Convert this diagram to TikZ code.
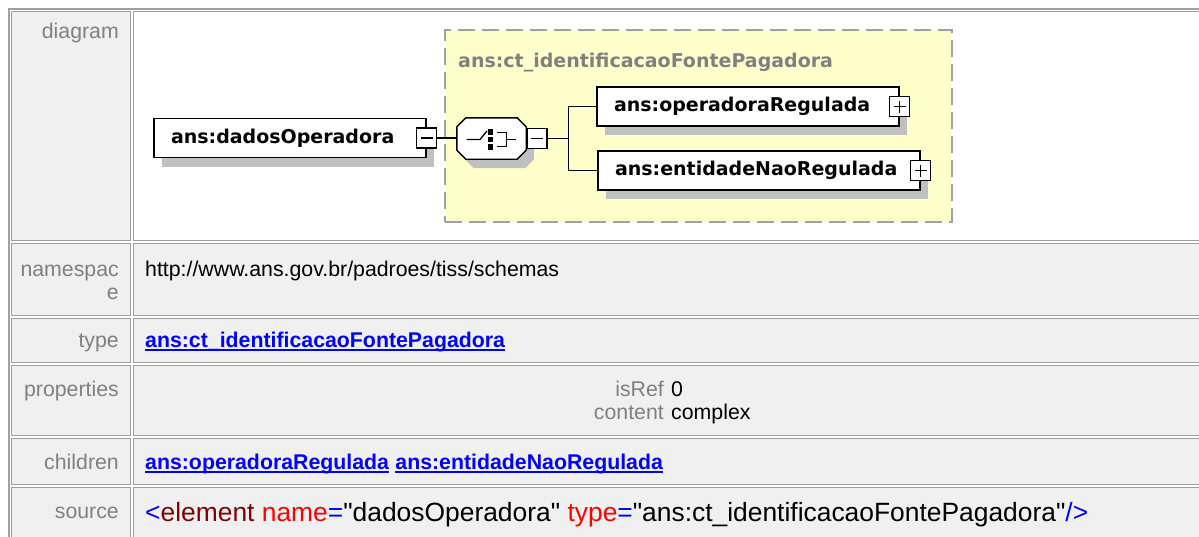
\documentclass[tikz,border=0pt]{standalone}
\usepackage{fontspec}
\setmainfont{Liberation Sans}
\newfontfamily\diafont{DejaVu Sans}
\newfontfamily\srcfont{Liberation Sans}[Ligatures=TeXOff]
\usetikzlibrary{positioning,shadows}

\definecolor{cellline}{HTML}{A0A0A0}
\definecolor{cellbg}{HTML}{F0F0F0}
\definecolor{labelgray}{HTML}{808080}
\definecolor{shadegray}{HTML}{C0C0C0}
\definecolor{groupbg}{HTML}{FFFFCC}
\definecolor{groupline}{HTML}{A0A0A0}
\definecolor{linkblue}{HTML}{0000FF}
\definecolor{tagred}{HTML}{800000}
\definecolor{attrred}{HTML}{FF0000}

\tikzset{
  cell/.style={draw=cellline, line width=1pt, fill=cellbg},
  rowlabel/.style={anchor=base east, inner sep=0pt, text=labelgray,
    font=\fontsize{21.3}{24}\selectfont},
  rowvalue/.style={anchor=base west, inner sep=0pt,
    font=\fontsize{21.3}{24}\selectfont},
  linkval/.style={rowvalue, text=linkblue,
    font=\bfseries\fontsize{21.3}{24}\selectfont},
  linkline/.style={draw=linkblue, line width=1.3pt},
  srcval/.style={anchor=base west, inner sep=0pt,
    font=\srcfont\fontsize{26.4}{30}\selectfont},
  boxshadow/.style={drop shadow={shadow xshift=8pt, shadow yshift=-9pt,
    fill=shadegray, opacity=1}},
  elbox/.style={draw, fill=white, line width=1.4pt, minimum height=39pt,
    inner xsep=17pt, inner ysep=0pt, align=left, text height=14pt,
    text depth=4pt, font=\diafont\bfseries\fontsize{19}{22}\selectfont,
    boxshadow},
  signbox/.style={draw, fill=white, line width=1.3pt, minimum width=20pt,
    minimum height=20pt, inner sep=0pt},
  minusbox/.style={signbox, path picture={
    \draw[line width=1.3pt] ([xshift=4pt]path picture bounding box.west)
      -- ([xshift=-4pt]path picture bounding box.east);}},
  plusbox/.style={signbox, path picture={
    \draw[line width=1.3pt] ([xshift=4pt]path picture bounding box.west)
      -- ([xshift=-4pt]path picture bounding box.east)
      ([yshift=-4pt]path picture bounding box.north)
      -- ([yshift=4pt]path picture bounding box.south);}},
  conn/.style={line width=1.3pt},
  groupbox/.style={draw=groupline, fill=groupbg, line width=2pt,
    dash pattern=on 17pt off 7pt},
  grouptitle/.style={anchor=base west, inner sep=0pt, text=labelgray,
    font=\diafont\bfseries\fontsize{19}{22}\selectfont},
}

\begin{document}
\begin{tikzpicture}[x=1pt,y=-1pt]
\useasboundingbox (0,0) rectangle (1199,536);
\clip (0,0) rectangle (1199,536);
\fill[white] (0,0) rectangle (1199,536);
% table frame and cells
\draw[cellline, line width=1.5pt] (9,9) rectangle (1230,560);
\path[cell] (11,11) rectangle (130,240);
\path[cell, fill=white] (133,11) rectangle (1220,240);
\foreach \ya/\yb in {243/315, 318/362, 365/435, 438/484, 487/560} {
  \path[cell] (11,\ya) rectangle (130,\yb);
  \path[cell] (133,\ya) rectangle (1220,\yb);
}
% row labels
\node[rowlabel] (lbdiagram) at (119,38) {diagram};
\node[rowlabel] (lbnamespace) at (119,276) {namespac};
\node[rowlabel] (lbnamespacee) at (119,299) {e};
\node[rowlabel] (lbtype) at (119,347) {type};
\node[rowlabel] (lbprops) at (119,396) {properties};
\node[rowlabel] (lbchildren) at (119,469) {children};
\node[rowlabel] (lbsource) at (119,518) {source};
% row values
\node[rowvalue] (nsval) at (145,276) {http://www.ans.gov.br/padroes/tiss/schemas};
\node[linkval] (typeval) at (145,347) {ans:ct\_identificacaoFontePagadora};
\draw[linkline] ([yshift=-3pt]typeval.base west) -- ([yshift=-3pt]typeval.base east);
\node[rowlabel] (isreflb) at (664,396) {isRef};
\node[rowvalue] (isrefval) at (671,396) {0};
\node[rowlabel] (contentlb) at (664,419) {content};
\node[rowvalue] (contentval) at (671,419) {complex};
\node[linkval] (childop) at (145,469) {ans:operadoraRegulada};
\node[linkval, right=6pt of childop.base east, anchor=base west] (childen) {ans:entidadeNaoRegulada};
\draw[linkline] ([yshift=-3pt]childop.base west) -- ([yshift=-3pt]childop.base east);
\draw[linkline] ([yshift=-3pt]childen.base west) -- ([yshift=-3pt]childen.base east);
\node[srcval] (srcval) at (145,521) {\textcolor{linkblue}{<}\textcolor{tagred}{element}
  \textcolor{attrred}{name}\textcolor{linkblue}{=}"dadosOperadora"
  \textcolor{attrred}{type}\textcolor{linkblue}{=}"ans:ct\_identificacaoFontePagadora"\textcolor{linkblue}{/>}};
% complex type group
\node[groupbox, minimum width=507pt, minimum height=192pt] (group) at (698.5,126) {};
\node[grouptitle] (grouptitle) at (458,67) {ans:ct\_identificacaoFontePagadora};
% element and sequence
\node[elbox, text width=238pt] (dados) at (290,138) {ans:dadosOperadora};
\node[minusbox] (dadosmin) at (dados.east) {};
\node[minimum width=69pt, minimum height=41pt, inner sep=0pt] (seq) at (491.5,138.5) {};
\path[draw, fill=white, line width=1.4pt, boxshadow]
  ([xshift=9pt]seq.north west) -- ([xshift=-9pt]seq.north east)
  -- ([yshift=-9pt]seq.north east) -- ([yshift=9pt]seq.south east)
  -- ([xshift=-9pt]seq.south east) -- ([xshift=9pt]seq.south west)
  -- ([yshift=9pt]seq.south west) -- ([yshift=-9pt]seq.north west) -- cycle;
\begin{scope}[shift={([yshift=-1pt]seq.center)}, line width=1.3pt]
  \draw (-25,0) -- (-11.5,0) -- (-4.5,-8.5);
  \foreach \sy in {-7.5,0,7.5} \fill (-3.5,\sy-2.6) rectangle (1.5,\sy+2.6);
  \draw (5,-7) -- (15,-7) -- (15,7) -- (5,7) (15,0) -- (24,0);
\end{scope}
\node[minusbox, right=0pt of seq] (seqmin) {};
% children
\node[elbox, text width=268pt] (opreg) at (748,106.5) {ans:operadoraRegulada};
\node[plusbox] (opregplus) at (opreg.east) {};
\node[elbox, text width=288pt] (entid) at (759,170.5) {ans:entidadeNaoRegulada};
\node[plusbox] (entidplus) at (entid.east) {};
% connectors
\coordinate[right=21pt of seqmin.east] (fork);
\draw[conn] (dadosmin.east) -- (dadosmin.east -| seq.west);
\draw[conn] (seqmin.east) -- (fork);
\draw[conn] (opreg.west) -| (fork) |- (entid.west);
\end{tikzpicture}
\end{document}
